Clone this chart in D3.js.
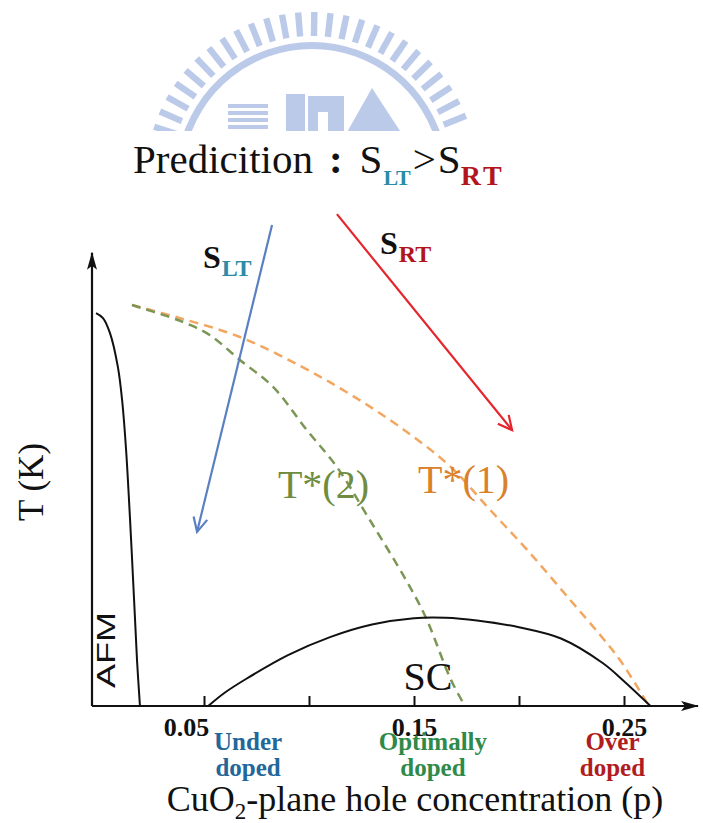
<!DOCTYPE html>
<html>
<head>
<meta charset="utf-8">
<script src="https://cdn.jsdelivr.net/npm/d3@7"></script>
<style>
  body { margin: 0; background: #fff; }
  svg { display: block; }
</style>
</head>
<body>
<div id="chart"></div>
<script>
// phase diagram, p = hole concentration, T normalised (no T ticks in the original)
const afmLine = [[-0.0014, 0.873], [0.0019, 0.862], [0.0052, 0.829], [0.0090, 0.753], [0.0110, 0.680],
  [0.0129, 0.569], [0.0148, 0.413], [0.0167, 0.236], [0.0181, 0.102], [0.0195, 0]];
const scDome = [[0.052, 0], [0.06, 0.03], [0.07, 0.06], [0.09, 0.113], [0.11, 0.153], [0.13, 0.181],
  [0.15, 0.195], [0.165, 0.196], [0.18, 0.19], [0.20, 0.175], [0.22, 0.15], [0.24, 0.095],
  [0.25, 0.055], [0.2626, 0]];
const tStar1 = [[0.0157, 0.891], [0.0386, 0.862], [0.0671, 0.820], [0.0957, 0.756], [0.1195, 0.693],
  [0.1433, 0.620], [0.1671, 0.533], [0.1862, 0.436], [0.2052, 0.340], [0.2243, 0.236],
  [0.2386, 0.158], [0.2481, 0.102], [0.2619, 0]];
const tStar2 = [[0.0157, 0.891], [0.0338, 0.864], [0.0433, 0.847], [0.0529, 0.824], [0.0671, 0.769],
  [0.0829, 0.709], [0.0990, 0.613], [0.1133, 0.531], [0.1290, 0.413], [0.1462, 0.280],
  [0.1557, 0.196], [0.1676, 0.058], [0.1743, 0]];

// S_LT / S_RT arrows, [start, end] in data units
const arrowLT = [[0.0824, 1.069], [0.0467, 0.387]];
const arrowRT = [[0.1133, 1.093], [0.1967, 0.613]];

const xTickValues = [0.05, 0.10, 0.15, 0.20, 0.25];
const xTickLabels = ['0.05', '', '0.15', '', '0.25'];

const dopingNames = [['Under', 'doped'], ['Optimally', 'doped'], ['Over', 'doped']];
const dopingP = [0.071, 0.159, 0.2445];
const dopingColors = ['#23679a', '#2f8a4a', '#b01c22'];

const width = 703;
const height = 823;
const axisLeft = 92;
const axisRight = 698;

const serif = '"Liberation Serif", "Times New Roman", serif';

const svg = d3.select('#chart')
  .append('svg')
  .attr('width', width)
  .attr('height', height);

const x = d3.scaleLinear().domain([0.05, 0.25]).range([204, 624]);
const y = d3.scaleLinear().domain([0, 1]).range([706, 256]);

// ---- watermark (logo behind the title) ----
const wm = svg.append('g').attr('fill', '#bccaea');
svg.append('clipPath').attr('id', 'wmclip')
  .append('rect').attr('x', 0).attr('y', 0).attr('width', width).attr('height', 131);
wm.attr('clip-path', 'url(#wmclip)');
const cx = 312, cy = 178;
d3.range(-72, 73, 5.6).forEach(a => {
  wm.append('rect')
    .attr('x', -3.2).attr('y', -166)
    .attr('width', 6.4).attr('height', 24)
    .attr('transform', 'translate(' + cx + ',' + cy + ') rotate(' + a + ')');
});
wm.append('path')
  .attr('transform', 'translate(' + cx + ',' + cy + ')')
  .attr('d', d3.arc().innerRadius(129).outerRadius(136).startAngle(-1.35).endAngle(1.35)());
d3.range(4).forEach(i => {
  wm.append('rect').attr('x', 228).attr('y', 104 + i * 7).attr('width', 40).attr('height', 4);
});
wm.append('rect').attr('x', 286).attr('y', 94).attr('width', 19).attr('height', 40);
wm.append('rect').attr('x', 308).attr('y', 96).attr('width', 36).attr('height', 40);
wm.append('path').attr('d', 'M346,134 L372,88 L402,134 Z');
wm.append('rect').attr('x', 318).attr('y', 112).attr('width', 10).attr('height', 20).attr('fill', '#fff');

// ---- title ----
const title = svg.append('text')
  .attr('x', 133).attr('y', 173)
  .style('font-family', serif)
  .style('font-size', '41px')
  .attr('fill', '#111');
title.append('tspan').text('Predicition');
title.append('tspan').text(':').attr('dx', 16).style('font-weight', 'bold');
title.append('tspan').text('S').attr('dx', 17);
title.append('tspan').text('LT').attr('dy', 12).attr('dx', 1)
  .style('font-size', '22px').style('font-weight', 'bold').attr('fill', '#2b8ca8');
title.append('tspan').text('>').attr('dy', -12).attr('dx', 2);
title.append('tspan').text('S').attr('dx', 2);
title.append('tspan').text('RT').attr('dy', 12).attr('dx', 0)
  .style('font-size', '28px').style('font-weight', 'bold').attr('fill', '#b3151c')
  .style('letter-spacing', '3px');

// ---- markers ----
const defs = svg.append('defs');
defs.append('marker')
  .attr('id', 'axisHead')
  .attr('viewBox', '0 0 18 12')
  .attr('refX', 17).attr('refY', 6)
  .attr('markerWidth', 18).attr('markerHeight', 12)
  .attr('markerUnits', 'userSpaceOnUse')
  .attr('orient', 'auto')
  .append('path')
  .attr('d', 'M0,1 L18,6 L0,11 L4,6 Z')
  .attr('fill', '#111');
[['headLT', '#5a80c2'], ['headRT', '#e4262c']].forEach(([id, col]) => {
  defs.append('marker')
    .attr('id', id)
    .attr('viewBox', '0 0 18 18')
    .attr('refX', 16).attr('refY', 9)
    .attr('markerWidth', 18).attr('markerHeight', 18)
    .attr('markerUnits', 'userSpaceOnUse')
    .attr('orient', 'auto')
    .append('path')
    .attr('d', 'M2,2 L16,9 L2,16')
    .attr('fill', 'none')
    .attr('stroke', col)
    .attr('stroke-width', 2.2);
});

// ---- axes ----
svg.append('line')
  .attr('x1', axisLeft).attr('y1', y(0))
  .attr('x2', axisLeft).attr('y2', y(1.007))
  .attr('stroke', '#111').attr('stroke-width', 2.2)
  .attr('marker-end', 'url(#axisHead)');
svg.append('line')
  .attr('x1', axisLeft).attr('y1', y(0))
  .attr('x2', axisRight).attr('y2', y(0))
  .attr('stroke', '#111').attr('stroke-width', 2.2)
  .attr('marker-end', 'url(#axisHead)');

const xAxis = svg.append('g')
  .attr('transform', 'translate(0,' + y(0) + ')')
  .call(d3.axisBottom(x)
    .tickValues(xTickValues)
    .tickSize(-10)
    .tickFormat((d, i) => xTickLabels[i]));
xAxis.select('.domain').remove();
xAxis.selectAll('.tick line').attr('stroke', '#111').attr('stroke-width', 2);
xAxis.selectAll('.tick text')
  .attr('y', 12)
  .attr('dy', '0.71em')
  .attr('dx', d => (d === 0.05 ? -18 : 0))
  .attr('fill', '#111')
  .style('font-family', serif)
  .style('font-size', '26px')
  .style('font-weight', 'bold');

// ---- curves ----
const line = d3.line()
  .x(d => x(d[0]))
  .y(d => y(d[1]))
  .curve(d3.curveCatmullRom.alpha(0.5));

svg.append('path').datum(tStar1)
  .attr('d', line).attr('fill', 'none')
  .attr('stroke', '#f2a660').attr('stroke-width', 2.5)
  .attr('stroke-dasharray', '9,6');
svg.append('path').datum(tStar2)
  .attr('d', line).attr('fill', 'none')
  .attr('stroke', '#7b9655').attr('stroke-width', 2.5)
  .attr('stroke-dasharray', '9,6');
svg.append('path').datum(afmLine)
  .attr('d', line).attr('fill', 'none')
  .attr('stroke', '#111').attr('stroke-width', 2);
svg.append('path').datum(scDome)
  .attr('d', line).attr('fill', 'none')
  .attr('stroke', '#111').attr('stroke-width', 2);

// ---- S arrows ----
svg.append('line')
  .attr('x1', x(arrowLT[0][0])).attr('y1', y(arrowLT[0][1]))
  .attr('x2', x(arrowLT[1][0])).attr('y2', y(arrowLT[1][1]))
  .attr('stroke', '#5a80c2').attr('stroke-width', 2.2)
  .attr('marker-end', 'url(#headLT)');
svg.append('line')
  .attr('x1', x(arrowRT[0][0])).attr('y1', y(arrowRT[0][1]))
  .attr('x2', x(arrowRT[1][0])).attr('y2', y(arrowRT[1][1]))
  .attr('stroke', '#e4262c').attr('stroke-width', 2.2)
  .attr('marker-end', 'url(#headRT)');

function subLabel(px, pt, sub, subColor, subSize) {
  const t = svg.append('text')
    .attr('x', x(px)).attr('y', y(pt))
    .style('font-family', serif)
    .style('font-weight', 'bold')
    .style('font-size', '32px')
    .attr('fill', '#111');
  t.append('tspan').text('S');
  t.append('tspan').text(sub).attr('dy', 8).attr('dx', 1)
    .style('font-size', subSize).attr('fill', subColor);
}
subLabel(0.0495, 0.974, 'LT', '#2b8ca8', '24px');
subLabel(0.1338, 1.004, 'RT', '#b3151c', '24px');

// ---- labels ----
svg.append('text')
  .attr('x', x(0.1519)).attr('y', y(0.473))
  .style('font-family', serif).style('font-size', '40px')
  .attr('fill', '#d9822b')
  .text('T*(1)');
svg.append('text')
  .attr('x', x(0.0852)).attr('y', y(0.462))
  .style('font-family', serif).style('font-size', '40px')
  .attr('fill', '#6f8c3f')
  .text('T*(2)');
svg.append('text')
  .attr('x', x(0.1567)).attr('y', y(0.035))
  .attr('text-anchor', 'middle')
  .style('font-family', serif).style('font-size', '40px')
  .attr('fill', '#111')
  .text('SC');
svg.append('text')
  .attr('transform', 'translate(' + (x(0.0076)) + ',' + y(0.04) + ') rotate(-90)')
  .style('font-family', '"Liberation Sans", Arial, sans-serif')
  .style('font-size', '25px')
  .attr('textLength', 76)
  .attr('lengthAdjust', 'spacingAndGlyphs')
  .attr('fill', '#111')
  .text('AFM');

// doping regions
dopingNames.forEach((lines, i) => {
  const t = svg.append('text')
    .attr('text-anchor', 'middle')
    .style('font-family', serif)
    .style('font-size', '25px')
    .style('font-weight', 'bold')
    .attr('fill', dopingColors[i]);
  lines.forEach((s, j) => {
    t.append('tspan').attr('x', x(dopingP[i])).attr('y', 750 + j * 26).text(s);
  });
});

// axis titles
const xt = svg.append('text')
  .attr('x', 415).attr('y', 811)
  .attr('text-anchor', 'middle')
  .style('font-family', serif).style('font-size', '36px')
  .attr('fill', '#111');
xt.append('tspan').text('CuO');
xt.append('tspan').text('2').attr('dy', 8).style('font-size', '23px');
xt.append('tspan').text('-plane hole concentration (p)').attr('dy', -8);

svg.append('text')
  .attr('transform', 'translate(43,482) rotate(-90)')
  .attr('text-anchor', 'middle')
  .style('font-family', serif).style('font-size', '35px')
  .attr('fill', '#111')
  .text('T (K)');
</script>
</body>
</html>
